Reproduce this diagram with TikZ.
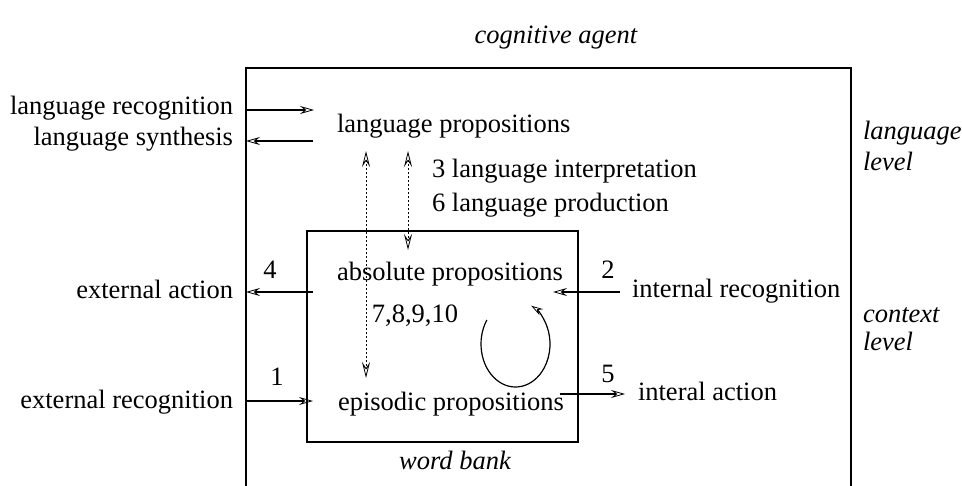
\documentclass[tikz,border=0pt]{standalone}
\usepackage{fontspec}
\setmainfont{Liberation Serif}
\usetikzlibrary{arrows.meta}
\begin{document}
\begin{tikzpicture}[x=0.5pt,y=0.5pt,
  every node/.style={inner sep=0pt,outer sep=0pt,font=\fontsize{13.25}{16}\selectfont},
  frame/.style={line width=1.3pt},
  flow/.style={line width=1.3pt,-{Stealth[open,length=7pt,width=4pt,inset=2.5pt,line width=0.4pt]}},
  dotlink/.style={line width=0.5pt,dash pattern=on 0.6pt off 1.4pt,
    {Stealth[open,length=8pt,width=4pt,inset=3pt,line width=0.4pt]}-{Stealth[open,length=8pt,width=4pt,inset=3pt,line width=0.4pt]}},
  lbl/.style={anchor=base west},
  rlbl/.style={anchor=base east},
  it/.style={font=\fontsize{13.25}{16}\selectfont\itshape}]
\useasboundingbox (0,0) rectangle (962,-486);

% outer frame (open at bottom)
\coordinate (obl) at (246,-486);
\coordinate (otl) at (246,-68);
\coordinate (otr) at (851,-68);
\coordinate (obr) at (851,-486);
\draw[frame] (obl) -- (otl) -- (otr) -- (obr);

% inner box
\coordinate (itl) at (307,-231);
\coordinate (ibr) at (578,-442);
\draw[frame] (itl) rectangle (ibr);

% titles
\node[it,anchor=base] (agent) at (556,-44) {cognitive agent};
\node[it,anchor=base] (bank) at (455,-469) {word bank};
\node[it,lbl] (ll1) at (863,-140) {language};
\node[it,lbl] (ll2) at (863,-170) {level};
\node[it,lbl] (cl1) at (863,-322) {context};
\node[it,lbl] (cl2) at (863,-350) {level};

% main texts
\node[lbl] (lp) at (337,-133) {language propositions};
\node[lbl] (ap) at (337,-280) {absolute propositions};
\node[lbl] (ep) at (338,-410) {episodic propositions};
\node[lbl] (interp) at (432,-177) {3 language interpretation};
\node[lbl] (prod) at (432,-212) {6 language production};
\node[anchor=base] (nums) at (415,-322) {7,8,9,10};

% left labels
\node[rlbl] (lrec) at (233,-115) {language recognition};
\node[rlbl] (lsyn) at (233,-146) {language synthesis};
\node[rlbl] (eact) at (233,-298) {external action};
\node[rlbl] (erec) at (233,-408) {external recognition};
\node[anchor=base] (n4) at (270,-278) {4};
\node[anchor=base] (n1) at (277,-385) {1};

% right labels
\node[lbl] (irec) at (632,-297) {internal recognition};
\node[lbl] (iact) at (638,-400) {interal action};
\node[anchor=base] (n2) at (608,-278) {2};
\node[anchor=base] (n5) at (608,-382) {5};

% arrow end points
\coordinate (a1s) at (246,-110); \coordinate (a1e) at (314,-110);
\coordinate (a2s) at (313,-141); \coordinate (a2e) at (246,-141);
\coordinate (a3s) at (313,-292); \coordinate (a3e) at (246,-292);
\coordinate (a4s) at (620,-292); \coordinate (a4e) at (553,-292);
\coordinate (a5s) at (246,-401); \coordinate (a5e) at (313,-401);
\coordinate (a6s) at (560,-394); \coordinate (a6e) at (625,-394);
\draw[flow] (a1s) -- (a1e);
\draw[flow] (a2s) -- (a2e);
\draw[flow] (a3s) -- (a3e);
\draw[flow] (a4s) -- (a4e);
\draw[flow] (a5s) -- (a5e);
\draw[flow] (a6s) -- (a6e);

% dotted double arrows
\coordinate (d1t) at (366,-151); \coordinate (d1b) at (366,-378);
\coordinate (d2t) at (408,-151); \coordinate (d2b) at (408,-250);
\draw[dotlink] (d1t) -- (d1b);
\draw[dotlink] (d2t) -- (d2b);

% cycle arc
\coordinate (cyc) at (515.5,-344);
\draw[line width=0.6pt,-{Stealth[open,length=6pt,width=3.5pt,inset=2pt,line width=0.4pt]}]
  ([shift={(146:34.5 and 43)}]cyc) arc[start angle=146,end angle=423,x radius=34.5,y radius=43];
\end{tikzpicture}
\end{document}
